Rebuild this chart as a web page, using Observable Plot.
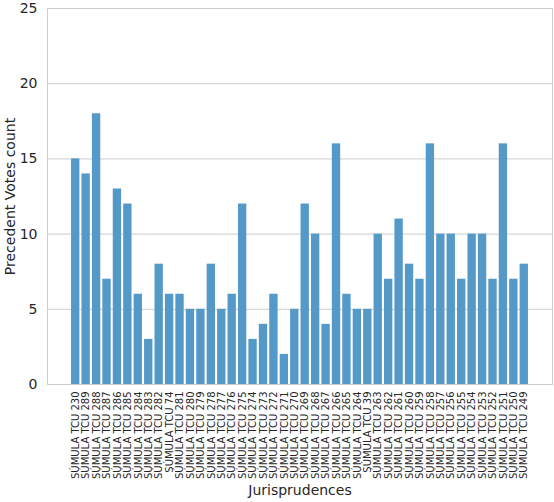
<!DOCTYPE html>
<html>
<head>
<meta charset="utf-8">
<script src="https://cdn.jsdelivr.net/npm/d3@7"></script>
<script src="https://cdn.jsdelivr.net/npm/@observablehq/plot@0.6"></script>
<style>
  body { margin: 0; background: #fff; }
  #chart svg { font-family: "DejaVu Sans", sans-serif; }
</style>
</head>
<body>
<div id="chart"></div>
<script>
var numbers = [230, 289, 288, 287, 286, 285, 284, 283, 282, 74, 281, 280, 279, 278, 277,
    276, 275, 274, 273, 272, 271, 270, 269, 268, 267, 266, 265, 264, 39, 263,
    262, 261, 260, 259, 258, 257, 256, 255, 254, 253, 252, 251, 250, 249]
var votes = [15, 14, 18, 7, 13, 12, 6, 3, 8, 6, 6, 5, 5, 8, 5,
    6, 12, 3, 4, 6, 2, 5, 12, 10, 4, 16, 6, 5, 5, 10,
    7, 11, 8, 7, 16, 10, 10, 7, 10, 10, 7, 16, 7, 8]
var yTicks = [0, 5, 10, 15, 20, 25]

var labels = numbers.map(n => `SÚMULA TCU ${n}`)
var data = labels.map((label, i) => ({label: label, votes: votes[i]}))

var plot = Plot.plot({
    width: 554,
    height: 502,
    marginTop: 8,
    marginRight: 2,
    marginBottom: 118,
    marginLeft: 47,
    style: {fontSize: "10px", color: "#262626", background: "#fff"},
    x: {domain: labels, paddingInner: 0.2, paddingOuter: 0.1, round: false, insetLeft: 23, insetRight: 23, label: null},
    y: {domain: [0, 25], label: null},
    marks: [
        Plot.gridY(yTicks, {stroke: "#cccccc", strokeOpacity: 1}),
        Plot.frame({stroke: "#cccccc"}),
        Plot.barY(data, {x: "label", y: "votes", fill: "#5599c8"}),
        Plot.axisX({tickSize: 0, tickRotate: -90, tickPadding: 7, textAnchor: "end", fontSize: 10, label: null}),
        Plot.axisY(yTicks, {tickSize: 0, tickPadding: 10, fontSize: 14, label: null}),
        Plot.text(["Jurisprudences"], {frameAnchor: "bottom", dy: 110, fontSize: 14, fill: "#262626"}),
        Plot.text(["Precedent Votes count"], {frameAnchor: "left", textAnchor: "middle", rotate: -90, dx: -37, fontSize: 14, fill: "#262626"})
    ]
})
document.getElementById("chart").append(plot)
</script>
</body>
</html>
